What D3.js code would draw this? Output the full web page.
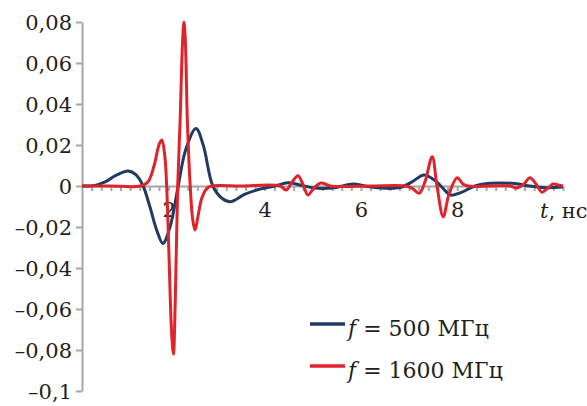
<!DOCTYPE html>
<html lang="ru">
<head>
<meta charset="utf-8">
<title>Импульсы</title>
<script src="https://cdn.jsdelivr.net/npm/d3@7"></script>
<style>
  body { margin: 0; background: #fff; }
  svg text { font-family: "DejaVu Serif", serif; fill: #231f20; }
  .axis path, .axis line { stroke: #a6a6a6; stroke-width: 2; }
  .axis text { font-size: 21px; font-family: "DejaVu Serif", serif; }
</style>
</head>
<body>
<div id="chart"></div>
<script>
// f = 500 МГц
const timeBlue = [0.2, 0.47, 0.68, 0.89, 1.16, 1.32, 1.47, 1.61, 1.76, 1.88,
  2.03, 2.2, 2.36, 2.57, 2.72, 2.92, 3.11, 3.28, 3.59, 3.9,
  4.21, 4.48, 4.73, 5.04, 5.46, 5.83, 6.08, 6.4, 6.81, 7.06,
  7.31, 7.52, 7.66, 7.87, 8.1, 8.37, 8.68, 9.2, 9.51, 9.83, 10.2]
const valueBlue = [0, 0.0003, 0.002, 0.005, 0.0073, 0.0055, 0, -0.01, -0.022, -0.028,
  -0.02, 0, 0.018, 0.028, 0.02, 0, -0.006, -0.0077, -0.004, -0.0015,
  0, 0.0016, 0.0005, -0.001, -0.0008, 0.001, 0, -0.001, -0.0008, 0.002,
  0.0054, 0.003, 0, -0.0044, -0.003, 0, 0.0013, 0.0012, 0, -0.0008, -0.0005]

// f = 1600 МГц
const timeRed = [0.2, 0.8, 1.41, 1.57, 1.7, 1.8, 1.86, 1.92, 1.96, 2.01, 2.06,
  2.1, 2.14, 2.19, 2.24, 2.29, 2.32, 2.35, 2.39, 2.45, 2.5,
  2.55, 2.61, 2.69, 2.8, 2.9, 3.5, 4.32, 4.44, 4.57, 4.69, 4.79,
  4.9, 5.02, 5.17, 5.36, 6.2, 6.92, 7.06, 7.21, 7.33, 7.48, 7.58,
  7.71, 7.83, 8.0, 8.12, 8.22, 8.7, 9.1, 9.24, 9.39, 9.51, 9.64,
  9.76, 9.89, 9.99, 10.1, 10.2]
const valueRed = [0, 0, 0, 0.002, 0.01, 0.02, 0.0224, 0.015, 0, -0.035, -0.07,
  -0.082, -0.055, 0, 0.032, 0.07, 0.08, 0.07, 0.032, 0, -0.016,
  -0.0215, -0.015, -0.006, -0.001, 0, 0, 0, -0.002, 0.002, 0.005, 0.001,
  -0.0044, -0.001, 0.0015, 0, 0, 0, -0.001, -0.0035, 0.002, 0.0143, 0,
  -0.015, -0.004, 0.004, 0.001, 0, 0, 0, -0.001, 0.001, 0.004, 0.001,
  -0.003, -0.001, 0.001, 0.0005, 0]

const yTicks = [0.08, 0.06, 0.04, 0.02, 0, -0.02, -0.04, -0.06, -0.08, -0.1]
const yTickLabels = ['0,08', '0,06', '0,04', '0,02', '0', '–0,02', '–0,04', '–0,06', '–0,08', '–0,1']
const xTicks = [2, 4, 6, 8]
const xTickLabels = ['2', '4', '6', '8']
const seriesNames = ['500 МГц', '1600 МГц']
const seriesColors = ['#1f3a63', '#e0222b']

const svg = d3.select('#chart').append('svg')
  .attr('width', 587)
  .attr('height', 406)

const x = d3.scaleLinear().domain([0.2, 10.2]).range([82, 563])
const y = d3.scaleLinear().domain([-0.1, 0.08]).range([391, 22])

// ось Y
const yAxis = svg.append('g')
  .attr('class', 'axis')
  .attr('transform', 'translate(82,0)')
  .call(d3.axisLeft(y).tickValues(yTicks)
    .tickFormat((d, i) => yTickLabels[i])
    .tickSize(6).tickSizeOuter(0).tickPadding(4))
yAxis.selectAll('text').attr('dy', '0.36em')

// ось X (по нулю), мелкие засечки
const minorTicks = d3.range(0.4, 10.21, 0.2)
svg.append('g')
  .attr('class', 'axis')
  .attr('transform', `translate(0,${y(0)})`)
  .call(d3.axisBottom(x).tickValues(minorTicks).tickFormat('')
    .tickSize(5).tickSizeOuter(0))
  .selectAll('line').attr('stroke-width', 1.5)

const xAxis = svg.append('g')
  .attr('class', 'axis')
  .attr('transform', `translate(0,${y(0)})`)
  .call(d3.axisBottom(x).tickValues(xTicks)
    .tickFormat((d, i) => xTickLabels[i])
    .tickSize(0).tickPadding(16))
xAxis.select('.domain').remove()

svg.append('text')
  .attr('transform', 'translate(540,218)')
  .style('font-size', '21px')
  .call(t => {
    t.append('tspan').style('font-style', 'italic').text('t')
    t.append('tspan').text(', нс')
  })

// кривые
const line = d3.line()
  .x(d => x(d[0]))
  .y(d => y(d[1]))
  .curve(d3.curveCatmullRom.alpha(0.5))

const series = [
  d3.zip(timeBlue, valueBlue),
  d3.zip(timeRed, valueRed)
]

svg.selectAll('.series')
  .data(series)
  .enter()
  .append('path')
  .attr('class', 'series')
  .attr('d', line)
  .attr('fill', 'none')
  .attr('stroke', (d, i) => seriesColors[i])
  .attr('stroke-width', 3)
  .attr('stroke-linejoin', 'round')

// легенда
const legend = svg.selectAll('.legend')
  .data(seriesNames)
  .enter()
  .append('g')
  .attr('class', 'legend')
  .attr('transform', (d, i) => `translate(310,${324 + i * 42})`)

legend.append('line')
  .attr('x1', 0).attr('x2', 35)
  .attr('stroke', (d, i) => seriesColors[i])
  .attr('stroke-width', 3.5)

legend.append('text')
  .attr('transform', 'translate(38,12)')
  .style('font-size', '22px')
  .each(function (d) {
    const t = d3.select(this)
    t.append('tspan').style('font-style', 'italic').text('f')
    t.append('tspan').text(' = ' + d)
  })
</script>
</body>
</html>
